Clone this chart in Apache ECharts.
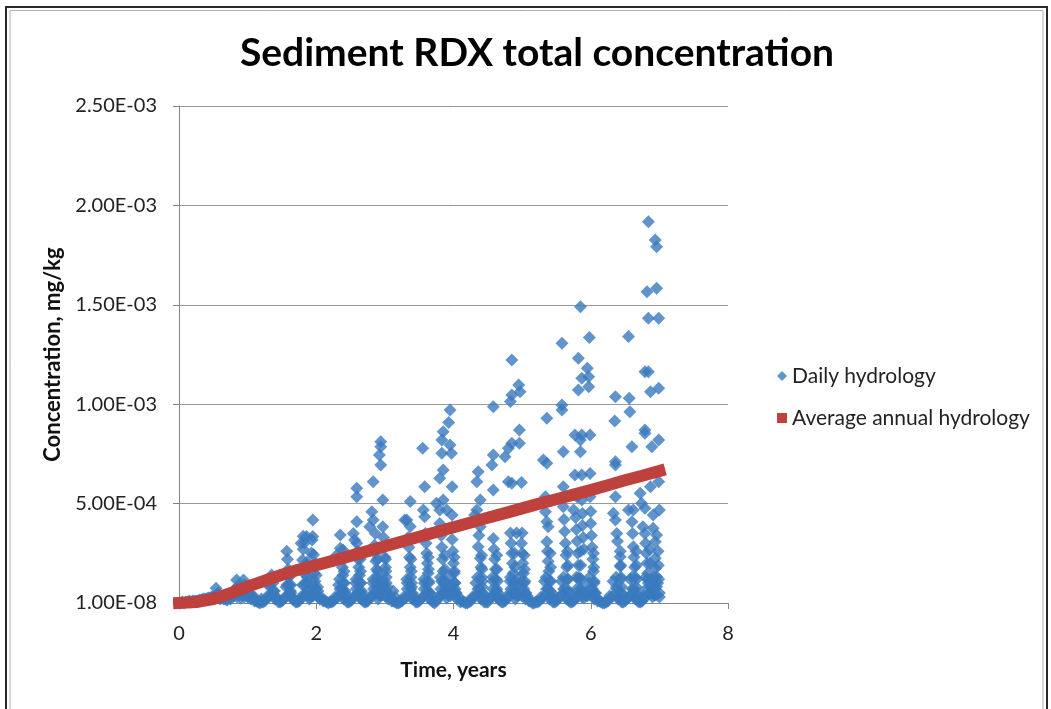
<!DOCTYPE html>
<html>
<head>
<meta charset="utf-8">
<title>Sediment RDX total concentration</title>
<script src="https://cdn.jsdelivr.net/npm/echarts@6/dist/echarts.min.js"></script>
<style>
  html, body { margin: 0; padding: 0; background: #fff; }
  #chart { width: 1051px; height: 709px; }
</style>
</head>
<body>
<div id="chart"></div>
<script>
// concentrations below are read in units of 1e-4 mg/kg
var yTickLabels = ['1.00E-08', '5.00E-04', '1.00E-03', '1.50E-03', '2.00E-03', '2.50E-03'];

var avgT = [0, 0.25, 0.5, 0.75, 1, 1.25, 1.5, 1.75, 2, 2.25, 2.5, 2.75, 3, 3.25, 3.5, 3.75, 4,
            4.25, 4.5, 4.75, 5, 5.25, 5.5, 5.75, 6, 6.25, 6.5, 6.75, 7];
var avgC = [0, 0.05, 0.2, 0.5, 0.82, 1.13, 1.42, 1.68, 1.9, 2.13, 2.37, 2.61, 2.85, 3.09, 3.33, 3.57, 3.81,
            4.05, 4.29, 4.52, 4.76, 5.0, 5.22, 5.45, 5.68, 5.92, 6.17, 6.4, 6.64];

// low "floor" of the daily series, every 0.05 yr
var floorT = [
  0.05, 0.1, 0.15, 0.2, 0.25, 0.3, 0.35, 0.4, 0.45, 0.5, 0.55, 0.6, 0.65, 0.7, 0.75, 0.8, 0.85, 0.9, 0.95,
  1.0, 1.05, 1.1, 1.15, 1.2, 1.25, 1.3, 1.35, 1.4, 1.45, 1.5, 1.55, 1.6, 1.65, 1.7, 1.75, 1.8, 1.85, 1.9, 1.95,
  2.0, 2.05, 2.1, 2.15, 2.2, 2.25, 2.3, 2.35, 2.4, 2.45, 2.5, 2.55, 2.6, 2.65, 2.7, 2.75, 2.8, 2.85, 2.9, 2.95,
  3.0, 3.05, 3.1, 3.15, 3.2, 3.25, 3.3, 3.35, 3.4, 3.45, 3.5, 3.55, 3.6, 3.65, 3.7, 3.75, 3.8, 3.85, 3.9, 3.95,
  4.0, 4.05, 4.1, 4.15, 4.2, 4.25, 4.3, 4.35, 4.4, 4.45, 4.5, 4.55, 4.6, 4.65, 4.7, 4.75, 4.8, 4.85, 4.9, 4.95,
  5.0, 5.05, 5.1, 5.15, 5.2, 5.25, 5.3, 5.35, 5.4, 5.45, 5.5, 5.55, 5.6, 5.65, 5.7, 5.75, 5.8, 5.85, 5.9, 5.95,
  6.0, 6.05, 6.1, 6.15, 6.2, 6.25, 6.3, 6.35, 6.4, 6.45, 6.5, 6.55, 6.6, 6.65, 6.7, 6.75, 6.8, 6.85, 6.9, 6.95, 7.0
];
var floorC = [
  0.05, 0.05, 0.1, 0.1, 0.1, 0.15, 0.2, 0.2, 0.25, 0.3, 0.4, 0.3, 0.2, 0.15, 0.2, 0.35, 0.3, 0.25, 0.3,
  0.35, 0.2, 0.1, 0.05, 0.05, 0.1, 0.3, 0.4, 0.2, 0.05, 0.1, 0.3, 0.45, 0.2, 0.05, 0.1, 0.3, 0.4, 0.2, 0.35,
  0.4, 0.2, 0.1, 0.05, 0.05, 0.1, 0.25, 0.45, 0.2, 0.05, 0.1, 0.3, 0.5, 0.2, 0.05, 0.1, 0.3, 0.45, 0.2, 0.4,
  0.35, 0.2, 0.1, 0.05, 0.0, 0.1, 0.25, 0.4, 0.2, 0.05, 0.1, 0.3, 0.45, 0.2, 0.05, 0.1, 0.3, 0.5, 0.25, 0.35,
  0.4, 0.2, 0.05, 0.05, 0.0, 0.1, 0.3, 0.45, 0.2, 0.05, 0.05, 0.3, 0.4, 0.2, 0.05, 0.1, 0.3, 0.45, 0.2, 0.4,
  0.35, 0.2, 0.1, 0.0, 0.05, 0.1, 0.25, 0.45, 0.2, 0.05, 0.1, 0.3, 0.5, 0.2, 0.05, 0.1, 0.3, 0.45, 0.25, 0.35,
  0.4, 0.2, 0.1, 0.05, 0.0, 0.1, 0.3, 0.4, 0.2, 0.05, 0.1, 0.3, 0.45, 0.2, 0.05, 0.1, 0.3, 0.45, 0.3, 0.4, 0.3
];
// the in-between days, which make the U shaped troughs
var floor2T = [
  0.025, 0.075, 0.125, 0.175, 0.225, 0.275, 0.325, 0.375, 0.425, 0.475, 0.525, 0.575, 0.625, 0.675, 0.725, 0.775, 0.825, 0.875, 0.925, 0.975,
  1.025, 1.075, 1.125, 1.175, 1.225, 1.275, 1.325, 1.375, 1.425, 1.475, 1.525, 1.575, 1.625, 1.675, 1.725, 1.775, 1.825, 1.875, 1.925, 1.975,
  2.025, 2.075, 2.125, 2.175, 2.225, 2.275, 2.325, 2.375, 2.425, 2.475, 2.525, 2.575, 2.625, 2.675, 2.725, 2.775, 2.825, 2.875, 2.925, 2.975,
  3.025, 3.075, 3.125, 3.175, 3.225, 3.275, 3.325, 3.375, 3.425, 3.475, 3.525, 3.575, 3.625, 3.675, 3.725, 3.775, 3.825, 3.875, 3.925, 3.975,
  4.025, 4.075, 4.125, 4.175, 4.225, 4.275, 4.325, 4.375, 4.425, 4.475, 4.525, 4.575, 4.625, 4.675, 4.725, 4.775, 4.825, 4.875, 4.925, 4.975,
  5.025, 5.075, 5.125, 5.175, 5.225, 5.275, 5.325, 5.375, 5.425, 5.475, 5.525, 5.575, 5.625, 5.675, 5.725, 5.775, 5.825, 5.875, 5.925, 5.975,
  6.025, 6.075, 6.125, 6.175, 6.225, 6.275, 6.325, 6.375, 6.425, 6.475, 6.525, 6.575, 6.625, 6.675, 6.725, 6.775, 6.825, 6.875, 6.925, 6.975
];
var floor2C = [
  0.0, 0.0, 0.05, 0.05, 0.1, 0.1, 0.15, 0.2, 0.25, 0.3, 0.35, 0.5, 0.3, 0.2, 0.25, 0.35, 0.6, 0.5, 0.4, 0.7,
  0.5, 0.3, 0.1, 0.0, 0.05, 0.3, 0.8, 0.6, 0.25, 0.05, 0.2, 0.9, 0.6, 0.15, 0.05, 0.3, 0.9, 0.6, 0.35, 0.8,
  0.6, 0.3, 0.1, 0.0, 0.05, 0.3, 0.9, 0.7, 0.25, 0.05, 0.2, 1.0, 0.6, 0.15, 0.05, 0.3, 1.0, 0.6, 0.35, 0.9,
  0.6, 0.3, 0.1, 0.0, 0.05, 0.3, 1.0, 0.7, 0.25, 0.05, 0.2, 1.0, 0.6, 0.15, 0.0, 0.3, 1.1, 0.7, 0.4, 0.9,
  0.7, 0.3, 0.1, 0.0, 0.05, 0.3, 1.0, 0.7, 0.2, 0.05, 0.2, 1.1, 0.6, 0.15, 0.05, 0.35, 1.1, 0.7, 0.35, 1.0,
  0.7, 0.35, 0.1, 0.0, 0.05, 0.3, 1.1, 0.7, 0.25, 0.05, 0.25, 1.1, 0.7, 0.15, 0.05, 0.3, 1.2, 0.7, 0.4, 1.0,
  0.7, 0.3, 0.1, 0.0, 0.05, 0.35, 1.1, 0.8, 0.25, 0.05, 0.2, 1.2, 0.7, 0.15, 0.05, 0.35, 1.2, 0.8, 0.4, 1.0
];

// storm peaks and their decay, year by year  [t, c]
var year0 = [[0.5,0.3],[0.54,0.74],[0.56,0.45],[0.6,0.2],[0.7,0.2],[0.82,0.7],[0.84,1.16],[0.86,0.85],
  [0.88,0.5],[0.94,1.16],[0.96,0.9],[0.98,0.6],[1.0,0.3]];
var year1 = [[1.1,0.3],[1.2,0.2],[1.32,0.9],[1.35,1.41],[1.37,1.0],[1.39,0.6],[1.42,0.3],
  [1.57,2.6],[1.58,2.2],[1.59,1.7],[1.6,1.3],[1.61,0.9],[1.63,0.5],[1.66,0.25],
  [1.78,3.0],[1.81,3.36],[1.83,3.03],[1.81,2.7],[1.8,2.16],[1.86,3.34],[1.87,2.07],[1.84,1.8],[1.85,1.4],
  [1.86,1.0],[1.88,0.6],[1.9,0.3],
  [1.95,4.18],[1.95,3.35],[1.94,3.17],[1.93,2.52],[1.96,2.43],[1.96,1.9],[1.97,1.5],[1.98,1.1],[1.99,0.7],[2.01,0.35],
  [1.56,0.8],[1.62,1.4],[1.63,0.9],[1.8,0.9],[1.86,1.9],[1.87,1.3],[1.93,1.0],[1.99,2.0],[2.0,1.4],[2.02,0.8]];
var year2 = [[2.3,2.42],[2.35,3.42],[2.35,2.75],[2.39,2.67],[2.37,2.2],[2.38,1.8],[2.39,1.4],[2.4,1.0],[2.42,0.6],[2.45,0.3],
  [2.59,5.77],[2.59,5.35],[2.59,4.09],[2.54,3.5],[2.56,3.17],[2.59,3.0],[2.6,2.6],[2.61,2.2],[2.62,1.8],[2.63,1.4],
  [2.64,1.0],[2.66,0.6],[2.68,0.3],
  [2.83,6.1],[2.81,4.59],[2.83,4.18],[2.78,3.84],[2.86,3.5],[2.85,2.9],[2.86,2.5],[2.87,2.1],[2.88,1.7],[2.89,1.3],
  [2.9,0.9],[2.92,0.5],
  [2.94,8.11],[2.94,7.86],[2.92,7.44],[2.94,6.94],[2.97,5.18],[2.97,3.84],[2.98,3.3],[2.99,2.8],[3.0,2.3],[3.01,1.8],
  [3.02,1.3],[3.03,0.8],[3.05,0.4],
  [2.34,1.2],[2.345,0.7],[2.4,2.2],[2.405,1.6],[2.41,1.0],[2.42,0.5],
  [2.58,1.2],[2.585,0.7],[2.64,2.2],[2.645,1.6],[2.65,1.0],[2.66,0.5],
  [2.83,1.2],[2.835,0.7],[2.89,2.2],[2.895,1.6],[2.9,1.0],[2.91,0.5],
  [2.95,1.2],[2.955,0.7],[3.01,2.2],[3.015,1.6],[3.02,1.0],[3.03,0.5]];
var year3 = [[3.12,0.6],[3.15,0.3],
  [3.37,5.1],[3.32,4.18],[3.37,3.85],[3.29,4.18],[3.34,3.3],[3.35,2.8],[3.36,2.3],[3.37,1.8],[3.38,1.3],[3.39,0.8],[3.41,0.4],
  [3.55,7.78],[3.58,5.85],[3.56,4.68],[3.58,4.34],[3.59,3.5],[3.6,3.0],[3.61,2.5],[3.62,2.0],[3.63,1.5],[3.64,1.0],[3.66,0.5],
  [3.95,9.71],[3.93,9.08],[3.85,8.62],[3.83,8.2],[3.95,7.95],[3.83,7.53],[3.97,7.53],[3.85,6.69],[3.8,6.27],[3.98,5.85],
  [3.75,5.02],[3.85,5.18],[3.8,4.68],[3.9,4.68],[3.98,4.43],
  [3.8,4.0],[3.82,3.4],[3.83,2.8],[3.84,2.2],[3.85,1.6],[3.86,1.0],[3.88,0.5],
  [3.97,3.8],[3.98,3.2],[3.99,2.6],[4.0,2.0],[4.01,1.5],[4.02,1.0],[4.04,0.5],
  [3.32,1.2],[3.325,0.7],[3.38,2.2],[3.385,1.6],[3.39,1.0],[3.4,0.5],
  [3.57,1.2],[3.575,0.7],[3.63,2.3],[3.635,1.7],[3.64,1.1],[3.65,0.5],
  [3.81,1.3],[3.815,0.7],[3.87,2.4],[3.875,1.7],[3.88,1.1],[3.89,0.5],
  [3.95,1.3],[3.955,0.7],[4.01,2.3],[4.015,1.6],[4.02,1.0],[4.03,0.5]];
var year4 = [[4.58,9.87],[4.58,7.44],[4.56,6.94],[4.36,6.6],[4.34,6.1],[4.58,5.68],[4.39,5.18],[4.34,4.68],[4.31,4.43],
  [4.39,3.84],[4.37,3.4],[4.36,2.83],[4.39,2.25],[4.4,1.8],[4.41,1.3],[4.42,0.8],[4.44,0.4],
  [4.58,3.25],[4.59,2.7],[4.6,2.2],[4.61,1.7],[4.62,1.2],[4.63,0.7],[4.65,0.35],
  [4.85,12.22],[4.95,10.97],[4.97,10.63],[4.85,10.46],[4.83,10.13],[4.96,8.7],[4.85,8.03],[4.96,8.03],[4.8,7.78],
  [4.75,7.36],[4.8,6.1],[4.85,6.02],[4.99,6.06],[4.83,3.52],[4.92,3.52],[5.0,3.52],
  [4.84,3.0],[4.85,2.5],[4.86,2.0],[4.87,1.5],[4.88,1.0],[4.9,0.5],
  [4.99,3.0],[5.0,2.5],[5.01,2.0],[5.02,1.5],[5.03,1.0],[5.05,0.5],
  [4.35,1.3],[4.355,0.7],[4.41,2.4],[4.415,1.7],[4.42,1.1],[4.43,0.5],
  [4.57,1.3],[4.575,0.7],[4.63,2.4],[4.635,1.7],[4.64,1.1],[4.65,0.5],
  [4.83,1.3],[4.835,0.7],[4.89,2.5],[4.895,1.8],[4.9,1.1],[4.91,0.5],
  [4.97,1.3],[4.975,0.7],[5.03,2.4],[5.035,1.7],[5.04,1.1],[5.05,0.5]];
var year5 = [[5.36,9.29],[5.31,7.19],[5.36,7.03],[5.34,5.35],[5.34,4.59],[5.36,4.09],[5.38,3.84],[5.36,3.08],
  [5.37,2.6],[5.38,2.1],[5.39,1.6],[5.4,1.1],[5.41,0.6],[5.43,0.3],
  [5.58,13.06],[5.58,9.96],[5.58,9.71],[5.6,7.61],[5.6,5.85],[5.6,4.84],[5.75,4.68],
  [5.61,4.2],[5.62,3.6],[5.63,3.0],[5.64,2.4],[5.65,1.8],[5.66,1.2],[5.68,0.6],
  [5.85,14.9],[5.98,13.35],[5.82,12.31],[5.95,11.81],[5.87,11.3],[5.97,11.38],[5.82,10.71],[5.97,10.88],
  [5.77,8.45],[5.87,8.45],[5.99,8.45],[5.85,8.2],[5.85,7.61],[5.77,6.44],[5.87,6.44],[5.99,6.52],
  [5.8,5.35],[5.87,5.18],[5.99,5.35],
  [5.78,4.3],[5.79,3.7],[5.8,3.1],[5.81,2.5],[5.82,1.9],[5.83,1.3],[5.85,0.7],[5.87,0.3],
  [5.88,4.5],[5.88,3.9],[5.89,3.3],[5.9,2.7],
  [6.0,4.6],[6.0,4.0],[6.01,3.4],[6.02,2.8],[6.03,2.2],[6.04,1.6],[6.05,1.0],[6.07,0.5],
  [5.35,1.3],[5.355,0.7],[5.41,2.5],[5.415,1.8],[5.42,1.1],[5.43,0.5],
  [5.6,1.3],[5.605,0.7],[5.66,2.6],[5.665,1.9],[5.67,1.2],[5.68,0.5],
  [5.79,1.3],[5.795,0.7],[5.85,2.6],[5.855,1.9],[5.86,1.2],[5.87,0.5],
  [5.98,1.3],[5.985,0.7],[6.04,2.5],[6.045,1.8],[6.05,1.1],[6.06,0.5]];
var year6 = [[6.36,10.38],[6.35,9.16],[6.36,7.11],[6.36,6.94],[6.36,5.35],[6.33,4.51],[6.36,4.18],[6.38,3.5],[6.39,3.1],
  [6.43,2.33],[6.43,1.83],[6.44,1.3],[6.45,0.8],[6.47,0.4],
  [6.55,13.4],[6.56,10.3],[6.57,9.62],[6.6,7.86],[6.55,4.68],[6.62,4.68],[6.6,4.09],[6.61,3.5],[6.62,2.83],
  [6.63,2.3],[6.64,1.8],[6.65,1.3],[6.66,0.8],[6.68,0.4],
  [6.84,19.18],[6.94,18.26],[6.96,17.92],[6.82,15.66],[6.96,15.83],[6.84,14.32],[6.99,14.32],[6.79,11.63],
  [6.84,11.63],[6.87,10.63],[6.99,10.8],[6.79,8.7],[6.79,8.54],[6.99,8.2],[6.89,7.86],[6.87,5.85],[6.99,6.1],
  [6.72,5.52],[6.74,5.02],[6.79,4.76],[6.91,4.43],[7.0,4.68],[6.76,3.84],[6.79,3.5],[6.91,3.76],[6.96,3.42],
  [6.94,3.08],[6.94,2.25],[6.94,1.75],[6.96,1.32],[6.96,0.82],
  [6.8,3.0],[6.81,2.5],[6.82,2.0],[6.83,1.5],[6.84,1.0],[6.86,0.5],
  [6.37,1.3],[6.375,0.7],[6.43,2.6],[6.435,1.9],[6.44,1.2],[6.45,0.5],
  [6.6,1.3],[6.605,0.7],[6.66,2.6],[6.665,1.9],[6.67,1.2],[6.68,0.5],
  [6.8,1.3],[6.805,0.7],[6.86,2.7],[6.865,2.0],[6.87,1.2],[6.88,0.5],
  [6.92,1.3],[6.925,0.7],[6.98,2.6],[6.985,1.9],[6.99,1.2],[7.0,0.5]];

var E4 = 1e-4;
var daily = [];
for (var i = 0; i < floorT.length; i++) {
    daily.push([floorT[i], floorC[i] * E4]);
}
for (var k = 0; k < floor2T.length; k++) {
    daily.push([floor2T[k], floor2C[k] * E4]);
}
[year0, year1, year2, year3, year4, year5, year6].forEach(function (yr) {
    yr.forEach(function (p) { daily.push([p[0], p[1] * E4]); });
});
var average = [];
for (var j = 0; j < avgT.length; j++) {
    average.push([avgT[j], avgC[j] * E4]);
}

var font = 'Lato, "Open Sans", sans-serif';
var mychart = echarts.init(document.getElementById('chart'));
var option = {
    animation: false,
    backgroundColor: '#fff',
    title: {
        text: 'Sediment RDX total concentration',
        left: 532,
        textAlign: 'center',
        top: 29,
        textStyle: { fontFamily: font, fontSize: 39, fontWeight: 'bold', color: '#000' }
    },
    graphic: [
        { type: 'rect', shape: { x: 6, y: 7, width: 1041, height: 720 },
          style: { fill: 'none', stroke: '#2a2a2a', lineWidth: 2 }, silent: true },
        { type: 'rect', shape: { x: 10, y: 10.5, width: 1033, height: 720 },
          style: { fill: 'none', stroke: '#b0b0b0', lineWidth: 1 }, silent: true }
    ],
    legend: {
        orient: 'vertical',
        left: 772,
        top: 360,
        itemWidth: 10,
        itemHeight: 10,
        itemGap: 20,
        textStyle: { fontFamily: font, fontSize: 21, lineHeight: 22, color: '#222' },
        data: [
            { name: 'Daily hydrology', icon: 'diamond' },
            { name: 'Average annual hydrology', icon: 'rect' }
        ]
    },
    grid: { left: 179, right: 323, top: 106, bottom: 106 },
    xAxis: {
        type: 'value',
        min: 0, max: 8, interval: 2,
        name: 'Time, years',
        nameLocation: 'middle',
        nameGap: 57,
        nameTextStyle: { fontFamily: font, fontSize: 21, fontWeight: 'bold', color: '#111' },
        axisLine: { lineStyle: { color: '#868686' } },
        axisTick: { show: true, length: 6, lineStyle: { color: '#868686' } },
        axisLabel: { fontFamily: font, fontSize: 20, color: '#222', margin: 21 },
        splitLine: { show: false }
    },
    yAxis: {
        type: 'value',
        min: 0, max: 0.0025, interval: 0.0005,
        name: 'Concentration, mg/kg',
        nameLocation: 'middle',
        nameGap: 113,
        nameTextStyle: { fontFamily: font, fontSize: 22, fontWeight: 'bold', color: '#111' },
        axisLine: { show: true, lineStyle: { color: '#868686' } },
        axisTick: { show: true, length: 6, lineStyle: { color: '#868686' } },
        axisLabel: {
            fontFamily: font, fontSize: 20, color: '#222', margin: 22,
            formatter: function (v) { return yTickLabels[Math.round(v / 0.0005)]; }
        },
        splitLine: { lineStyle: { color: '#9a9a9a' } }
    },
    series: [
        {
            name: 'Daily hydrology',
            type: 'scatter',
            symbol: 'diamond',
            symbolSize: 13,
            clip: false,
            itemStyle: { color: '#3A79BE' },
            data: daily,
            z: 2
        },
        {
            name: 'Average annual hydrology',
            type: 'line',
            showSymbol: false,
            symbol: 'rect',
            clip: false,
            itemStyle: { color: '#BE413D' },
            lineStyle: { color: '#BE413D', width: 12, cap: 'square', join: 'round' },
            data: average,
            z: 3
        }
    ]
};
mychart.setOption(option);
</script>
</body>
</html>
